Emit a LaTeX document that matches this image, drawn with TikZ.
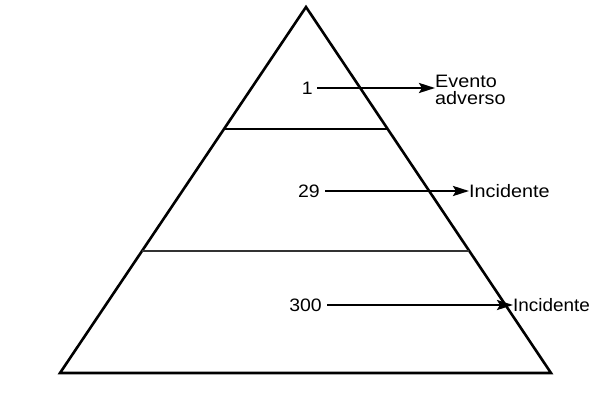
\documentclass[tikz,border=0pt]{standalone}
\usepackage{fontspec}
\setmainfont{Liberation Sans}
\usetikzlibrary{arrows.meta,calc,positioning}

\tikzset{
  numlbl/.style={inner sep=0pt,anchor=east,font=\fontsize{18}{18}\selectfont,xscale=1.08},
  outlbl/.style={inner sep=0pt,anchor=west,align=left,font=\fontsize{18}{17}\selectfont,xscale=1.1},
  flow/.style={-{Stealth[length=16pt,width=10pt,inset=3pt]},line width=2.6pt}
}

\begin{document}
\begin{tikzpicture}[x=1pt,y=-1pt]
  \useasboundingbox (0,0) rectangle (592,401);
  % pyramid outline
  \coordinate (top) at (306,7);
  \coordinate (bl) at (60,373);
  \coordinate (br) at (551,373);
  \draw[line width=2.6pt,line join=miter] (top) -- (bl) -- (br) -- cycle;
  % level lines
  \draw[line width=2.2pt] ($(top)!1/3!(bl)$) -- ($(top)!1/3!(br)$);
  \draw[line width=1.6pt,black!80] ($(top)!2/3!(bl)$) -- ($(top)!2/3!(br)$);
  % counts and arrows
  \node[numlbl] (n1) at (313,88) {1};
  \node[outlbl] (ev) at (435,90) {Evento\\adverso};
  \node[numlbl] (n29) at (320,191) {29};
  \node[outlbl] (inc1) at (469,191) {Incidente};
  \node[numlbl] (n300) at (322,305) {300};
  \node[outlbl,xscale=0.955] (inc2) at (513,305) {Incidente};
  \draw[flow] ([xshift=4pt]n1.east) -- (ev.west |- n1.east);
  \draw[flow] ([xshift=5pt]n29.east) -- (inc1.west);
  \draw[flow] ([xshift=5pt]n300.east) -- (inc2.west);
\end{tikzpicture}
\end{document}
